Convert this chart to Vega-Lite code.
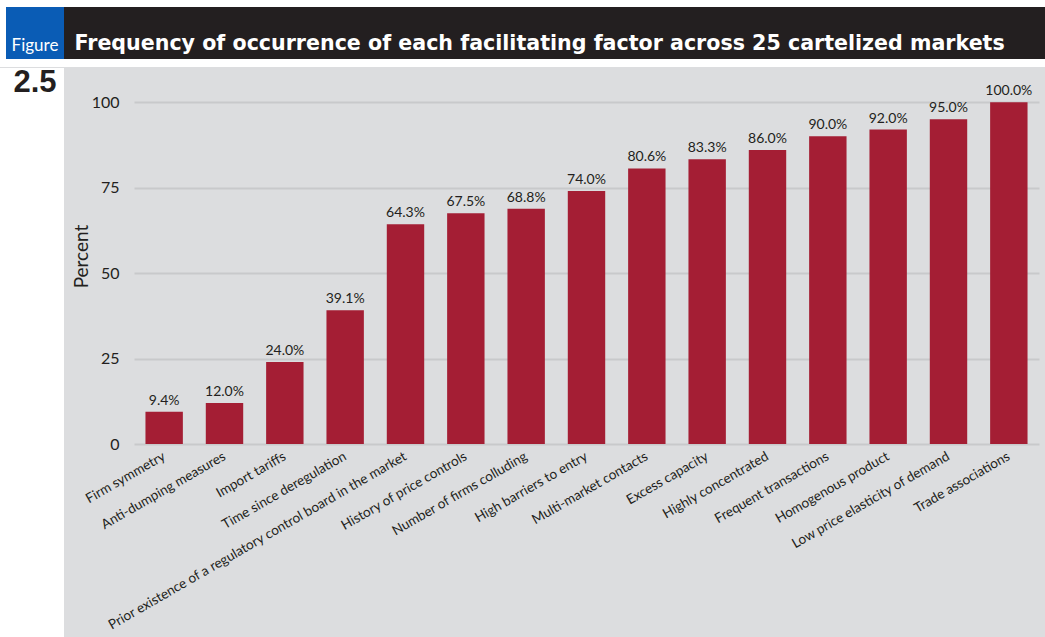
{
  "$schema": "https://vega.github.io/schema/vega-lite/v6.json",
  "background": "#dcdddf",
  "padding": 0,
  "spacing": 0,
  "config": {"view": {"stroke": null}, "font": "Lato"},
  "vconcat": [
    {
      "width": 1045, "height": 7,
      "view": {"fill": "#ffffff"},
      "data": {"values": [{}]},
      "mark": {"type": "point", "size": 1, "opacity": 0}
    },
    {
      "spacing": 0,
      "hconcat": [
        {
          "width": 6, "height": 52,
          "view": {"fill": "#ffffff"},
          "data": {"values": [{}]},
          "mark": {"type": "point", "size": 1, "opacity": 0}
        },
        {
          "width": 58, "height": 52,
          "view": {"fill": "#0a5cb5"},
          "data": {"values": [{}]},
          "mark": {"type": "text", "text": "Figure", "font": "Lato", "fontSize": 17, "color": "#ffffff", "align": "center", "baseline": "alphabetic", "dy": 18}
        },
        {
          "width": 981, "height": 52,
          "view": {"fill": "#231f20"},
          "data": {"values": [{}]},
          "mark": {"type": "text", "text": "Frequency of occurrence of each facilitating factor across 25 cartelized markets", "font": "DejaVu Sans", "fontWeight": "bold", "fontSize": 20.6, "color": "#ffffff", "align": "left", "baseline": "alphabetic", "dx": -480, "dy": 17}
        }
      ]
    },
    {
      "width": 1045, "height": 8,
      "view": {"fill": "#ffffff"},
      "data": {"values": [{}]},
      "mark": {"type": "point", "size": 1, "opacity": 0}
    },
    {
      "spacing": 8,
      "hconcat": [
        {
          "width": 64, "height": 570,
          "view": {"fill": "#ffffff"},
          "data": {"values": [{}]},
          "mark": {"type": "text", "text": "2.5", "font": "Liberation Sans", "fontWeight": "bold", "fontSize": 31, "color": "#231f20", "align": "center", "baseline": "top", "dx": 3, "dy": -285}
        },
        {
          "width": 905, "height": 376,
          "data": {"values": [
            {"factor": "Firm symmetry", "pct": 9.4, "label": "9.4%"},
            {"factor": "Anti-dumping measures", "pct": 12.0, "label": "12.0%"},
            {"factor": "Import tariffs", "pct": 24.0, "label": "24.0%"},
            {"factor": "Time since deregulation", "pct": 39.1, "label": "39.1%"},
            {"factor": "Prior existence of a regulatory control board in the market", "pct": 64.3, "label": "64.3%"},
            {"factor": "History of price controls", "pct": 67.5, "label": "67.5%"},
            {"factor": "Number of firms colluding", "pct": 68.8, "label": "68.8%"},
            {"factor": "High barriers to entry", "pct": 74.0, "label": "74.0%"},
            {"factor": "Multi-market contacts", "pct": 80.6, "label": "80.6%"},
            {"factor": "Excess capacity", "pct": 83.3, "label": "83.3%"},
            {"factor": "Highly concentrated", "pct": 86.0, "label": "86.0%"},
            {"factor": "Frequent transactions", "pct": 90.0, "label": "90.0%"},
            {"factor": "Homogenous product", "pct": 92.0, "label": "92.0%"},
            {"factor": "Low price elasticity of demand", "pct": 95.0, "label": "95.0%"},
            {"factor": "Trade associations", "pct": 100.0, "label": "100.0%"}
          ]},
          "encoding": {
            "x": {
              "field": "factor", "type": "nominal", "sort": null,
              "scale": {"paddingInner": 0.38, "paddingOuter": 0.19},
              "axis": {"title": null, "labelAngle": -30, "labelAlign": "right", "labelBaseline": "middle", "domain": false, "ticks": false, "labelPadding": 11, "labelFont": "Lato", "labelFontSize": 13.5, "labelColor": "#231f20", "labelLimit": 500, "grid": false}
            },
            "y": {
              "field": "pct", "type": "quantitative",
              "scale": {"domain": [0, 110], "nice": false},
              "axis": {"title": "Percent", "values": [0, 25, 50, 75, 100], "domain": false, "ticks": false, "labelPadding": 15, "labelFont": "Lato", "labelFontSize": 16, "labelColor": "#231f20", "gridColor": "#c8c9cb", "gridWidth": 2, "titleFont": "Lato", "titleFontSize": 19, "titleFontWeight": "normal", "titleColor": "#231f20", "titlePadding": 0}
            }
          },
          "layer": [
            {"mark": {"type": "bar", "color": "#a41e34"}},
            {"mark": {"type": "text", "baseline": "bottom", "dy": -4, "font": "Lato", "fontSize": 14, "color": "#231f20"},
             "encoding": {"text": {"field": "label"}}}
          ]
        }
      ]
    }
  ]
}
